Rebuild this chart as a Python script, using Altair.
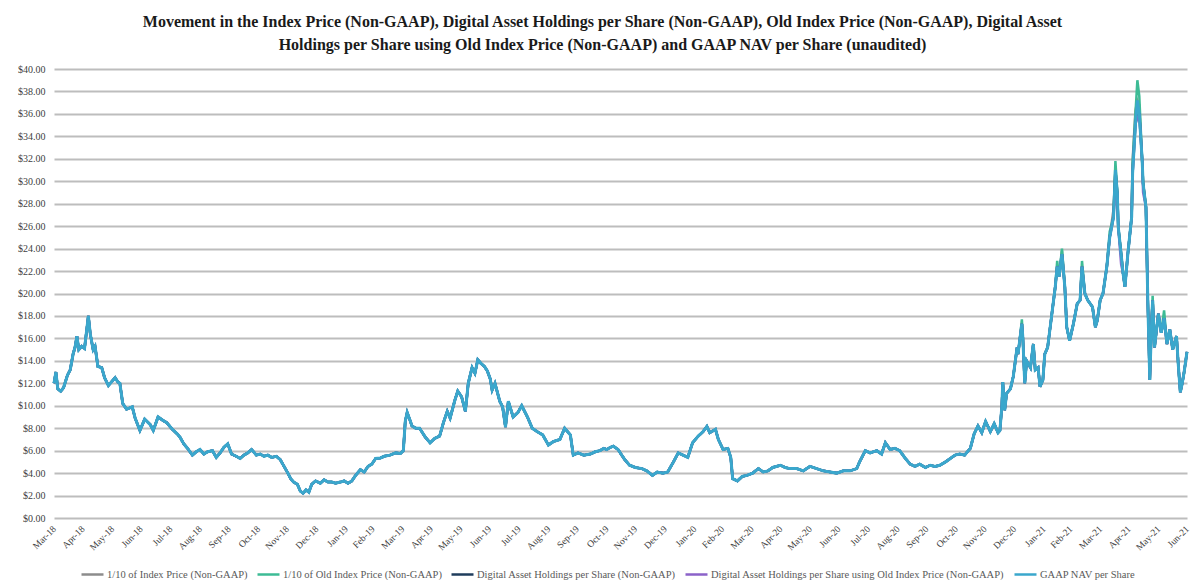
import altair as alt
import pandas as pd

START = "2018-03-31"

# day offsets from START (read along the x axis) and GAAP NAV per share values
day_offset = [
    0, 2, 4, 7, 10, 14, 17, 20, 22, 24, 26, 29, 32, 36, 38, 41, 43, 46, 50, 53,
    57, 61, 64, 67, 69, 72, 76, 82, 85, 90, 95, 101, 104, 109, 114, 118, 124, 129,
    132, 136, 140, 145, 149, 153, 157, 161, 166, 170, 174, 178, 182, 186, 191, 195,
    199, 203, 207, 212, 216, 220, 224, 228, 233, 237, 241, 245, 248, 251, 255, 258,
    261, 264, 267, 270, 274, 279, 283, 287, 291, 295, 300, 304, 308, 312, 316, 321,
    325, 329, 333, 337, 342,
    346, 352, 358, 363, 366, 368, 370, 373, 375, 379, 383, 389, 394, 399, 404, 408,
    412, 415, 420, 423, 427, 431, 434, 438, 441, 444, 447, 451, 454, 457, 459, 462,
    467, 470, 473, 476, 481, 486, 490, 496, 501, 506, 512, 518, 523, 530, 535, 541,
    544, 549, 555, 562, 567,
    572, 576, 579, 583, 586, 591, 594, 598, 603, 609, 616, 621, 627, 632, 638, 643,
    649, 654, 659, 664, 669, 675, 680, 684, 687, 693, 696, 701, 706, 709, 711, 716,
    721, 726, 732, 738, 743, 748, 753, 761, 766, 771, 778, 785, 792, 799, 806, 813,
    820, 827, 834, 841, 844, 850, 855, 862, 867, 871, 876, 881, 886,
    892, 897, 902, 907, 913, 918, 923, 928, 934, 939, 944, 949, 954, 960, 964, 968,
    972, 976, 981, 985, 989,
    991, 993, 994, 996, 998, 1002, 1005, 1009, 1010, 1012, 1014, 1015, 1017, 1019,
    1023, 1026, 1028, 1031, 1033, 1036, 1038, 1041, 1045, 1049, 1051, 1053, 1056,
    1059, 1061, 1064, 1068, 1072, 1075, 1077, 1080, 1083, 1088, 1091, 1093, 1096,
    1099, 1103, 1106, 1110, 1112, 1114, 1115, 1118, 1120, 1122, 1125, 1129, 1130,
    1133, 1135, 1137, 1140, 1141, 1144, 1146, 1148, 1150, 1151, 1153, 1157,
    1160, 1163, 1166, 1169, 1172, 1176, 1178, 1180, 1182, 1184, 1187,
]

gaap_nav = [
    12.0, 13.0, 11.5, 11.3, 11.6, 12.7, 13.2, 14.6, 15.2, 16.2, 15.0, 15.3, 15.1, 18.0, 16.4, 15.0, 15.3, 13.5, 13.4, 12.5,
    11.8, 12.2, 12.5, 12.1, 12.0, 10.2, 9.7, 9.9, 8.9, 7.8, 8.8, 8.3, 7.8, 9.0, 8.7, 8.5, 7.9, 7.5,
    7.2, 6.6, 6.2, 5.6, 5.9, 6.1, 5.7, 5.9, 6.0, 5.4, 5.8, 6.3, 6.6, 5.7, 5.5, 5.3,
    5.6, 5.8, 6.1, 5.6, 5.7, 5.5, 5.6, 5.4, 5.5, 5.2, 4.6, 4.0, 3.5, 3.2, 3.0, 2.4,
    2.2, 2.5, 2.3, 3.0, 3.3, 3.1, 3.4, 3.2, 3.2, 3.1, 3.2, 3.3, 3.1, 3.3, 3.8, 4.3,
    4.1, 4.6, 4.8, 5.3, 5.35,
    5.5, 5.6, 5.8, 5.75, 6.0, 8.6, 9.4, 8.7, 8.2, 8.0, 8.0, 7.2, 6.7, 7.1, 7.3, 8.5,
    9.5, 8.9, 10.5, 11.3, 10.8, 9.5, 12.0, 13.4, 12.9, 14.1, 13.8, 13.5, 13.1, 12.4, 11.4, 12.0,
    10.4, 9.9, 8.1, 10.4, 9.0, 9.4, 10.0, 9.0, 8.0, 7.7, 7.4, 6.5, 6.8, 7.0, 8.0, 7.4,
    5.6, 5.8, 5.6, 5.7, 5.9,
    6.0, 6.2, 6.1, 6.3, 6.4, 6.1, 5.7, 5.2, 4.7, 4.5, 4.4, 4.2, 3.8, 4.1, 4.0, 4.1,
    5.0, 5.8, 5.6, 5.4, 6.7, 7.3, 7.7, 8.15, 7.6, 7.9, 7.0, 6.1, 6.2, 5.4, 3.5, 3.3,
    3.7, 3.8, 4.0, 4.4, 4.1, 4.2, 4.5, 4.7, 4.5, 4.4, 4.4, 4.2, 4.6, 4.4, 4.2, 4.1,
    4.0, 4.2, 4.2, 4.4, 5.0, 6.0, 5.8, 6.0, 5.7, 6.7, 6.1, 6.2, 6.0,
    5.3, 4.8, 4.6, 4.8, 4.5, 4.7, 4.6, 4.7, 5.0, 5.3, 5.6, 5.7, 5.6, 6.2, 7.5, 8.2,
    7.6, 8.6, 7.7, 8.4, 7.6,
    7.8, 9.9, 12.1, 9.6, 11.1, 11.5, 12.6, 15.2, 14.6, 16.0, 17.3, 16.1, 12.0, 14.0,
    13.4, 15.5, 13.2, 13.4, 11.7, 12.3, 14.6, 15.2, 17.9, 20.6, 22.4, 21.5, 23.5,
    20.6, 17.0, 15.8, 17.3, 19.1, 19.4, 22.4, 20.0, 19.4, 18.8, 17.0, 17.6, 19.4,
    20.0, 22.4, 25.0, 26.8, 31.0, 28.9, 25.9, 23.5, 21.8, 20.6, 23.5, 26.8, 30.7,
    35.1, 37.2, 36.0, 31.9, 29.8, 27.7, 19.1, 12.3, 17.6, 19.4, 15.2, 18.2,
    16.5, 17.8, 15.5, 16.8, 15.0, 16.2, 13.5, 11.2, 12.0, 13.0, 14.8,
]

# points where the other series visibly leave the GAAP NAV line (day offset: value)
index_tenth_diff = {1133: 36.3, 1130: 31.8, 1110: 27.5, 1056: 23.8, 1137: 36.8}
old_index_tenth_diff = {1135: 39.0, 1133: 36.0, 1137: 37.6, 1112: 31.8, 1056: 24.0, 1051: 22.9,
                        1077: 22.9, 1014: 17.7, 1163: 18.5, 1151: 19.8, 1130: 31.5, 1106: 25.5}
holdings_diff = {1135: 36.2}
holdings_old_diff = {1112: 29.4, 1135: 35.6, 1141: 29.0, 1118: 22.6}
nav_diff = {}

series_names = [
    "1/10 of Index Price (Non-GAAP)",
    "1/10 of Old Index Price (Non-GAAP)",
    "Digital Asset Holdings per Share (Non-GAAP)",
    "Digital Asset Holdings per Share using Old Index Price (Non-GAAP)",
    "GAAP NAV per Share",
]
series_colors = ["#8c8c8c", "#3dbb95", "#1f3d5c", "#8b62c9", "#3aa7cc"]
series_widths = [2.5, 2.5, 2.5, 2.5, 3.0]

month_end_ticks = [
    "2018-03-31", "2018-04-30", "2018-05-31", "2018-06-30", "2018-07-31", "2018-08-31",
    "2018-09-30", "2018-10-31", "2018-11-30", "2018-12-31",
    "2019-01-31", "2019-02-28", "2019-03-31", "2019-04-30", "2019-05-31", "2019-06-30",
    "2019-07-31", "2019-08-31", "2019-09-30", "2019-10-31", "2019-11-30", "2019-12-31",
    "2020-01-31", "2020-02-29", "2020-03-31", "2020-04-30", "2020-05-31", "2020-06-30",
    "2020-07-31", "2020-08-31", "2020-09-30", "2020-10-31", "2020-11-30", "2020-12-31",
    "2021-01-31", "2021-02-28", "2021-03-31", "2021-04-30", "2021-05-31", "2021-06-30",
]
y_ticks = [0, 2, 4, 6, 8, 10, 12, 14, 16, 18, 20, 22, 24, 26, 28, 30, 32, 34, 36, 38, 40]

title_lines = [
    "Movement in the Index Price (Non-GAAP), Digital Asset Holdings per Share (Non-GAAP), Old Index Price (Non-GAAP), Digital Asset",
    "Holdings per Share using Old Index Price (Non-GAAP) and GAAP NAV per Share (unaudited)",
]

FONT = "Liberation Serif"


def to_dt(s):
    y, m, d = (int(p) for p in s.split("-"))
    return alt.DateTime(year=y, month=m, date=d)


dates = pd.Timestamp(START) + pd.to_timedelta(day_offset, unit="D")
rows = []
for name, diff in zip(series_names, [index_tenth_diff, old_index_tenth_diff, holdings_diff,
                                     holdings_old_diff, nav_diff]):
    for d, dt, v in zip(day_offset, dates, gaap_nav):
        rows.append({"date": dt, "series": name, "value": diff.get(d, v)})
df = pd.DataFrame(rows)

x_enc = alt.X(
    "date:T", title=None,
    scale=alt.Scale(domain=[to_dt(month_end_ticks[0]), to_dt(month_end_ticks[-1])]),
    axis=alt.Axis(values=[to_dt(s) for s in month_end_ticks], format="%b-%y", labelAngle=315,
                  labelAlign="right", labelBaseline="middle",
                  labelFont=FONT, labelFontSize=9.5, labelColor="#404040", domain=False,
                  ticks=False, grid=False, labelPadding=9, labelOverlap=False,
                  labelFlush=False),
)
y_enc = alt.Y(
    "value:Q", title=None, scale=alt.Scale(domain=[0, 40], nice=False),
    axis=alt.Axis(values=y_ticks, format="$.2f", labelFont=FONT, labelFontSize=10,
                  labelColor="#404040", domain=False, ticks=False, gridColor="#bdbdbd",
                  gridWidth=1.8, labelPadding=9),
)
color_enc = alt.Color(
    "series:N",
    scale=alt.Scale(domain=series_names, range=series_colors),
    legend=alt.Legend(title=None, orient="none", legendX=26, legendY=493, direction="horizontal",
                      symbolType="stroke", symbolSize=484, symbolStrokeWidth=2.5,
                      labelFont=FONT, labelFontSize=10.5, labelColor="#595959", labelOffset=2,
                      columnPadding=4, padding=0, labelLimit=500),
)

layers = []
for name, w in zip(series_names, series_widths):
    layers.append(
        alt.Chart(df).transform_filter(alt.datum.series == name)
        .mark_line(strokeWidth=w)
        .encode(x=x_enc, y=y_enc, color=color_enc)
    )

chart = alt.layer(*layers).properties(
    width=1133, height=449,
    autosize=alt.AutoSizeParams(type="none"),
    padding={"left": 46, "top": 61, "right": 6, "bottom": 62},
    title=alt.TitleParams(title_lines, font=FONT, fontSize=16, fontWeight="bold", color="#1a1a1a",
                          anchor="middle", dx=-18, offset=11, lineHeight=23),
    background="white",
).configure_view(stroke=None)

chart.save("out.html", embed_options={"renderer": "svg", "actions": False})
